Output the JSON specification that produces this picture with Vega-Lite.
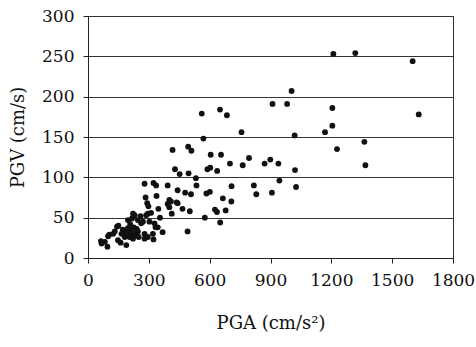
{
  "$schema": "https://vega.github.io/schema/vega-lite/v6.json",
  "width": 365,
  "height": 242,
  "autosize": {"type": "none"},
  "padding": {"left": 88, "top": 16, "right": 23, "bottom": 89},
  "background": "white",
  "config": {
    "view": {"stroke": "#333", "strokeWidth": 1},
    "axis": {
      "labelFont": "DejaVu Serif",
      "titleFont": "DejaVu Serif",
      "labelFontSize": 17,
      "titleFontSize": 18,
      "titleFontWeight": "normal",
      "labelColor": "#111",
      "titleColor": "#111",
      "domainColor": "#222",
      "tickColor": "#222",
      "tickSize": 5
    }
  },
  "data": {
    "values": [
      {"pga": 64, "pgv": 21}, {"pga": 67, "pgv": 18}, {"pga": 83, "pgv": 20}, {"pga": 96, "pgv": 14},
      {"pga": 99, "pgv": 27}, {"pga": 105, "pgv": 29}, {"pga": 124, "pgv": 30}, {"pga": 132, "pgv": 33},
      {"pga": 143, "pgv": 39}, {"pga": 150, "pgv": 40}, {"pga": 148, "pgv": 22}, {"pga": 161, "pgv": 19},
      {"pga": 165, "pgv": 30}, {"pga": 172, "pgv": 35}, {"pga": 181, "pgv": 26}, {"pga": 189, "pgv": 16},
      {"pga": 190, "pgv": 31}, {"pga": 197, "pgv": 37}, {"pga": 197, "pgv": 47}, {"pga": 205, "pgv": 26},
      {"pga": 208, "pgv": 42}, {"pga": 213, "pgv": 35}, {"pga": 215, "pgv": 30}, {"pga": 217, "pgv": 49},
      {"pga": 222, "pgv": 55}, {"pga": 222, "pgv": 24}, {"pga": 226, "pgv": 38}, {"pga": 230, "pgv": 53},
      {"pga": 230, "pgv": 30}, {"pga": 238, "pgv": 28}, {"pga": 240, "pgv": 36}, {"pga": 246, "pgv": 33},
      {"pga": 246, "pgv": 47}, {"pga": 250, "pgv": 26}, {"pga": 259, "pgv": 52}, {"pga": 262, "pgv": 43},
      {"pga": 271, "pgv": 45}, {"pga": 279, "pgv": 30}, {"pga": 279, "pgv": 24}, {"pga": 287, "pgv": 53},
      {"pga": 292, "pgv": 68}, {"pga": 295, "pgv": 26}, {"pga": 295, "pgv": 55}, {"pga": 298, "pgv": 64},
      {"pga": 303, "pgv": 45}, {"pga": 311, "pgv": 56}, {"pga": 320, "pgv": 30}, {"pga": 323, "pgv": 23},
      {"pga": 328, "pgv": 43}, {"pga": 333, "pgv": 38}, {"pga": 344, "pgv": 38}, {"pga": 347, "pgv": 61},
      {"pga": 355, "pgv": 50}, {"pga": 368, "pgv": 32}, {"pga": 401, "pgv": 63}, {"pga": 413, "pgv": 55},
      {"pga": 401, "pgv": 72}, {"pga": 393, "pgv": 67}, {"pga": 279, "pgv": 92}, {"pga": 323, "pgv": 93},
      {"pga": 336, "pgv": 90}, {"pga": 393, "pgv": 90}, {"pga": 284, "pgv": 75}, {"pga": 338, "pgv": 77},
      {"pga": 442, "pgv": 84}, {"pga": 479, "pgv": 81}, {"pga": 508, "pgv": 79}, {"pga": 442, "pgv": 68},
      {"pga": 466, "pgv": 61}, {"pga": 502, "pgv": 58}, {"pga": 437, "pgv": 69}, {"pga": 409, "pgv": 70},
      {"pga": 491, "pgv": 33}, {"pga": 576, "pgv": 50}, {"pga": 626, "pgv": 60}, {"pga": 636, "pgv": 57},
      {"pga": 679, "pgv": 59}, {"pga": 652, "pgv": 44}, {"pga": 665, "pgv": 74}, {"pga": 707, "pgv": 70},
      {"pga": 584, "pgv": 80}, {"pga": 601, "pgv": 82}, {"pga": 532, "pgv": 99}, {"pga": 535, "pgv": 90},
      {"pga": 708, "pgv": 89}, {"pga": 818, "pgv": 90}, {"pga": 830, "pgv": 79}, {"pga": 907, "pgv": 81},
      {"pga": 944, "pgv": 96}, {"pga": 1026, "pgv": 88}, {"pga": 417, "pgv": 134}, {"pga": 429, "pgv": 110},
      {"pga": 452, "pgv": 104}, {"pga": 496, "pgv": 105}, {"pga": 510, "pgv": 133}, {"pga": 494, "pgv": 138},
      {"pga": 561, "pgv": 179}, {"pga": 569, "pgv": 148}, {"pga": 589, "pgv": 110}, {"pga": 603, "pgv": 112},
      {"pga": 637, "pgv": 108}, {"pga": 605, "pgv": 128}, {"pga": 656, "pgv": 128}, {"pga": 651, "pgv": 184},
      {"pga": 685, "pgv": 177}, {"pga": 700, "pgv": 117}, {"pga": 763, "pgv": 115}, {"pga": 794, "pgv": 124},
      {"pga": 757, "pgv": 156}, {"pga": 871, "pgv": 117}, {"pga": 899, "pgv": 122}, {"pga": 939, "pgv": 117},
      {"pga": 1021, "pgv": 109}, {"pga": 1019, "pgv": 152}, {"pga": 910, "pgv": 191}, {"pga": 982, "pgv": 191},
      {"pga": 1004, "pgv": 207}, {"pga": 1169, "pgv": 156}, {"pga": 1205, "pgv": 186}, {"pga": 1205, "pgv": 164},
      {"pga": 1228, "pgv": 135}, {"pga": 1210, "pgv": 253}, {"pga": 1318, "pgv": 254}, {"pga": 1601, "pgv": 244},
      {"pga": 1631, "pgv": 178}, {"pga": 1363, "pgv": 144}, {"pga": 1368, "pgv": 115}
    ]
  },
  "mark": {"type": "circle", "size": 34, "color": "#111", "opacity": 1},
  "encoding": {
    "x": {
      "field": "pga", "type": "quantitative",
      "scale": {"domain": [0, 1800], "nice": false},
      "axis": {"values": [0, 300, 600, 900, 1200, 1500, 1800], "format": "d", "grid": false, "labelPadding": 9, "titlePadding": 26, "title": "PGA (cm/s²)", "labelFlush": false}
    },
    "y": {
      "field": "pgv", "type": "quantitative",
      "scale": {"domain": [0, 300], "nice": false},
      "axis": {"values": [0, 50, 100, 150, 200, 250, 300], "format": "d", "grid": true, "gridColor": "#333", "gridOpacity": 1, "labelPadding": 9, "titlePadding": 14, "title": "PGV (cm/s)"}
    }
  }
}
